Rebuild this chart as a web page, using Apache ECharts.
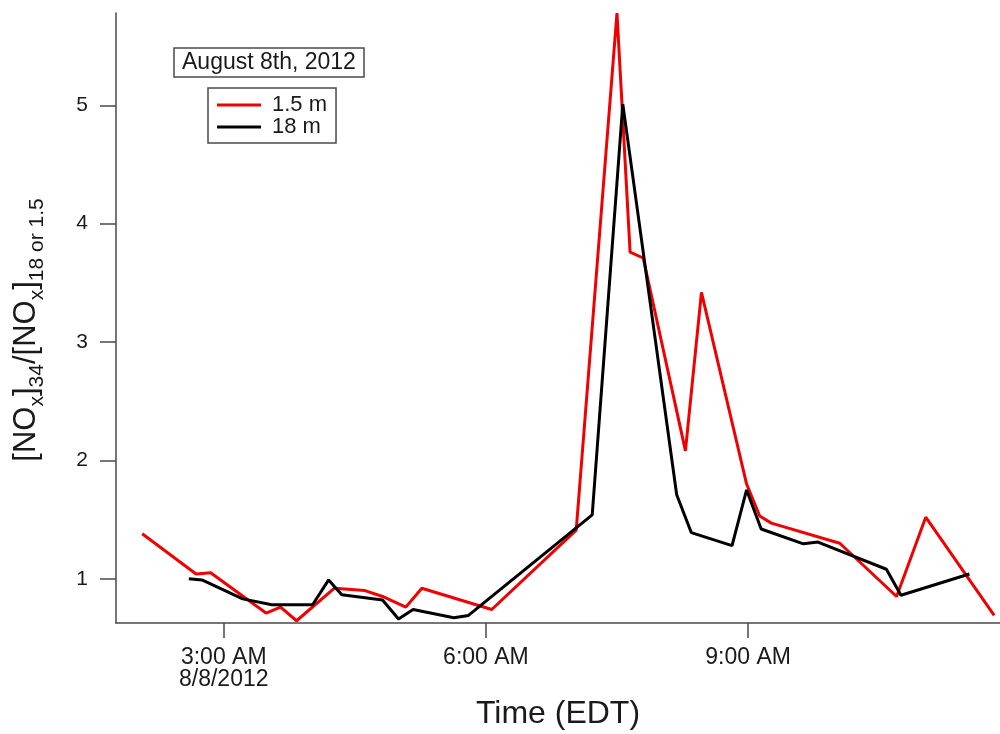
<!DOCTYPE html>
<html>
<head>
<meta charset="utf-8">
<title>NOx ratio, August 8th 2012</title>
<script src="https://cdn.jsdelivr.net/npm/echarts@6/dist/echarts.min.js"></script>
<style>
  html, body { margin: 0; padding: 0; background: #fff; }
  #chart { width: 1000px; height: 734px; }
</style>
</head>
<body>
<div id="chart"></div>
<script>
// Sample times (EDT, local clock) and the ratio measured at each inlet height
const redTimes = ['2:04','2:41','2:51','3:29','3:39','3:50','4:16','4:37','4:49','5:05','5:16','6:04',
                  '7:02','7:30','7:39','7:48','8:17','8:28','8:59','9:08','9:16','10:03','10:42','11:02','11:49'];
const redValues = [1.38,1.04,1.05,0.71,0.76,0.645,0.92,0.90,0.85,0.76,0.92,0.74,
                   1.41,5.78,3.76,3.71,2.08,3.42,1.80,1.53,1.47,1.30,0.85,1.52,0.69];

const blackTimes = ['2:36','2:45','3:13','3:33','4:01','4:12','4:21','4:49','5:00','5:10','5:38','5:48',
                    '7:13','7:34','8:11','8:21','8:49','8:59','9:09','9:38','9:48','10:35','10:45','11:32'];
const blackValues = [1.00,0.99,0.83,0.78,0.78,0.99,0.865,0.82,0.66,0.74,0.67,0.69,
                     1.54,5.01,1.71,1.39,1.28,1.75,1.42,1.295,1.31,1.08,0.86,1.04];

const seriesNames = ['1.5 m', '18 m'];

// Axis ticks
const xTickTimes = ['3:00', '6:00', '9:00'];
const xTickLabels = ['3:00 AM\n8/8/2012', '6:00 AM', '9:00 AM'];
const yTickValues = [1, 2, 3, 4, 5];

// Clock time -> minutes after midnight
function toMin(t) {
  const p = t.split(':');
  return Number(p[0]) * 60 + Number(p[1]);
}
const pairs = (times, vals) => times.map((t, i) => [toMin(t), vals[i]]);
const xTickMins = xTickTimes.map(toMin);

const FONT = '"Liberation Sans", Arial, sans-serif';
const AX = '#4a4a4a';

const chart = echarts.init(document.getElementById('chart'), null, { renderer: 'canvas' });

chart.setOption({
  backgroundColor: '#ffffff',
  animation: false,
  title: {
    text: 'August 8th, 2012',
    left: 174, top: 48,
    padding: [3, 8],
    borderColor: AX, borderWidth: 1.5,
    textStyle: { fontFamily: FONT, fontSize: 23, fontWeight: 'normal', color: '#1a1a1a' }
  },
  legend: {
    orient: 'vertical',
    left: 208, top: 88,
    padding: [6, 9, 5, 9],
    borderColor: AX, borderWidth: 1.5,
    itemWidth: 44, itemHeight: 3, itemGap: 0,
    icon: 'rect',
    data: seriesNames,
    textStyle: { fontFamily: FONT, fontSize: 22, color: '#1a1a1a', padding: [0, 0, 0, 6], lineHeight: 22 }
  },
  grid: { left: 116, right: 0, top: 13, bottom: 111, containLabel: false, outerBoundsMode: 'none' },
  xAxis: {
    type: 'value',
    min: 106, max: 713,
    name: 'Time (EDT)',
    nameLocation: 'middle',
    nameGap: 75,
    nameTextStyle: { fontFamily: FONT, fontSize: 32, color: '#1a1a1a', verticalAlign: 'top' },
    axisLine: { show: true, lineStyle: { color: AX, width: 1.5 } },
    axisTick: { show: true, inside: false, length: 15, customValues: xTickMins, lineStyle: { color: AX, width: 1.5 } },
    axisLabel: {
      customValues: xTickMins,
      margin: 24,
      fontFamily: FONT, fontSize: 23, lineHeight: 22, color: '#1a1a1a',
      formatter: v => xTickLabels[xTickMins.indexOf(v)]
    },
    splitLine: { show: false }
  },
  yAxis: {
    type: 'value',
    min: 0.626, max: 5.78,
    name: '{m|[NO}{s|x}{m|]}{s|34}{m|/[NO}{s|x}{m|]}{s|18 or 1.5}',
    nameLocation: 'middle',
    nameRotate: 90,
    nameGap: 68,
    nameTextStyle: {
      color: '#1a1a1a',
      padding: [0, 24, 0, 0],
      rich: {
        m: { fontFamily: FONT, fontSize: 31, lineHeight: 36, verticalAlign: 'bottom', padding: [0, 0, 6, 0] },
        s: { fontFamily: FONT, fontSize: 21, lineHeight: 20, verticalAlign: 'bottom', padding: [0, 0, 0, 0] }
      }
    },
    axisLine: { show: true, lineStyle: { color: AX, width: 1.5 } },
    axisTick: { show: true, inside: false, length: 16, customValues: yTickValues, lineStyle: { color: AX, width: 1.5 } },
    axisLabel: {
      customValues: yTickValues,
      margin: 28,
      fontFamily: FONT, fontSize: 21, color: '#1a1a1a'
    },
    splitLine: { show: false }
  },
  series: [
    {
      name: seriesNames[0],
      type: 'line',
      data: pairs(redTimes, redValues),
      showSymbol: false, symbol: 'none',
      itemStyle: { color: '#f00000' },
      lineStyle: { color: '#f00000', width: 3 },
      z: 2
    },
    {
      name: seriesNames[1],
      type: 'line',
      data: pairs(blackTimes, blackValues),
      showSymbol: false, symbol: 'none',
      itemStyle: { color: '#000000' },
      lineStyle: { color: '#000000', width: 3 },
      z: 3
    }
  ]
});
</script>
</body>
</html>
